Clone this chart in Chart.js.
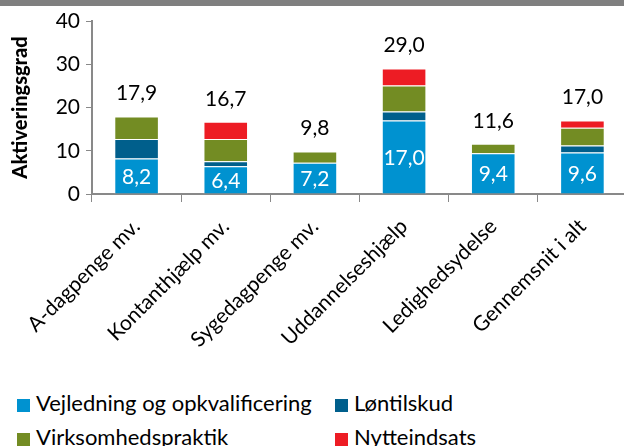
<!DOCTYPE html>
<html>
<head>
<meta charset="utf-8">
<script src="https://cdn.jsdelivr.net/npm/chart.js@4/dist/chart.umd.min.js"></script>
<style>
  body { margin: 0; width: 624px; height: 446px; overflow: hidden; position: relative; background: #fff; font-family: Lato, sans-serif; }
  #topbar { position: absolute; left: 0; top: 0; width: 624px; height: 6px; background: #7f7f7f; z-index: 2; }
  #chart { position: absolute; left: 0; top: 0; }
  .leg { position: absolute; font-size: 22px; color: #000; line-height: 24px; white-space: nowrap; }
  .leg span { display: inline-block; width: 13px; height: 13px; margin-right: 6px; vertical-align: -1px; }
</style>
</head>
<body>
<div id="topbar"></div>
<canvas id="chart" width="632" height="380"></canvas>
<div id="legend"></div>
<script>
const categories = ['A-dagpenge mv.', 'Kontanthjælp mv.', 'Sygedagpenge mv.', 'Uddannelseshjælp', 'Ledighedsydelse', 'Gennemsnit i alt'];
const vejledning = [8.2, 6.4, 7.2, 17.0, 9.4, 9.6];
const loentilskud = [4.5, 1.2, 0, 2.1, 0, 1.6];
const virksomhed = [5.2, 5.1, 2.6, 6.0, 2.2, 4.1];
const nytte = [0, 4.0, 0, 3.9, 0, 1.7];
const totals = [17.9, 16.7, 9.8, 29.0, 11.6, 17.0];
const yTicks = [0, 10, 20, 30, 40];

const seriesNames = ['Vejledning og opkvalificering', 'Løntilskud', 'Virksomhedspraktik', 'Nytteindsats'];
const seriesColors = ['#0092d0', '#005f8c', '#738c23', '#ed1c24'];
const seriesData = [vejledning, loentilskud, virksomhed, nytte];

const fmt = v => v.toFixed(1).replace('.', ',');

// egne værdietiketter: tal i den blå del og totaler over søjlen
const labelPlugin = {
    id: 'labels',
    afterDatasetsDraw(chart) {
        const ctx = chart.ctx;
        const meta = chart.getDatasetMeta(0);
        ctx.save();
        ctx.font = '21px Lato';
        ctx.textAlign = 'center';
        ctx.textBaseline = 'middle';
        ctx.fillStyle = '#ffffff';
        meta.data.forEach((bar, i) => {
            ctx.fillText(fmt(vejledning[i]), bar.x, (bar.y + bar.base) / 2 + 1);
        });
        ctx.fillStyle = '#000000';
        meta.data.forEach((bar, i) => {
            ctx.fillText(fmt(totals[i]), bar.x, chart.scales.y.getPixelForValue(totals[i]) - 23);
        });
        ctx.restore();
    }
};

new Chart(document.getElementById('chart').getContext('2d'), {
    type: 'bar',
    data: {
        labels: categories,
        datasets: seriesData.map((d, i) => ({
            label: seriesNames[i],
            data: d,
            backgroundColor: seriesColors[i],
            borderColor: 'rgba(255,255,255,0.6)',
            borderWidth: 1,
            barPercentage: 0.5,
            categoryPercentage: 1
        }))
    },
    options: {
        responsive: false,
        animation: false,
        layout: { padding: { top: 21, right: 5, left: 0, bottom: 0 } },
        plugins: { legend: { display: false }, tooltip: { enabled: false } },
        scales: {
            x: {
                stacked: true,
                afterFit: s => { s.height = 186; },
                grid: { display: true, offset: true, drawOnChartArea: false, color: '#898989', tickLength: 8, lineWidth: 1 },
                border: { color: '#898989', width: 2 },
                ticks: { color: '#000', font: { family: 'Lato', size: 21 }, minRotation: 45, maxRotation: 45, padding: 12 }
            },
            y: {
                stacked: true,
                min: 0,
                max: 40,
                afterFit: s => { s.width = 92; },
                afterBuildTicks: s => { s.ticks = yTicks.map(v => ({ value: v })); },
                grid: { drawOnChartArea: false, color: '#898989', tickLength: 6 },
                border: { color: '#898989', width: 2 },
                ticks: { color: '#000', font: { family: 'Lato', size: 21 }, padding: 6 },
                title: { display: true, text: 'Aktiveringsgrad', color: '#000', font: { family: 'Lato', size: 20, weight: '900' }, padding: { top: 9, bottom: 4 } }
            }
        }
    },
    plugins: [labelPlugin]
});

// legende i to kolonner
const legendPos = [[17, 391], [335, 391], [17, 425], [335, 425]];
const legend = document.getElementById('legend');
seriesNames.forEach((name, i) => {
    const div = document.createElement('div');
    div.className = 'leg';
    div.style.left = legendPos[i][0] + 'px';
    div.style.top = legendPos[i][1] + 'px';
    div.innerHTML = '<span style="background:' + seriesColors[i] + '"></span>' + name;
    legend.appendChild(div);
});
</script>
</body>
</html>
